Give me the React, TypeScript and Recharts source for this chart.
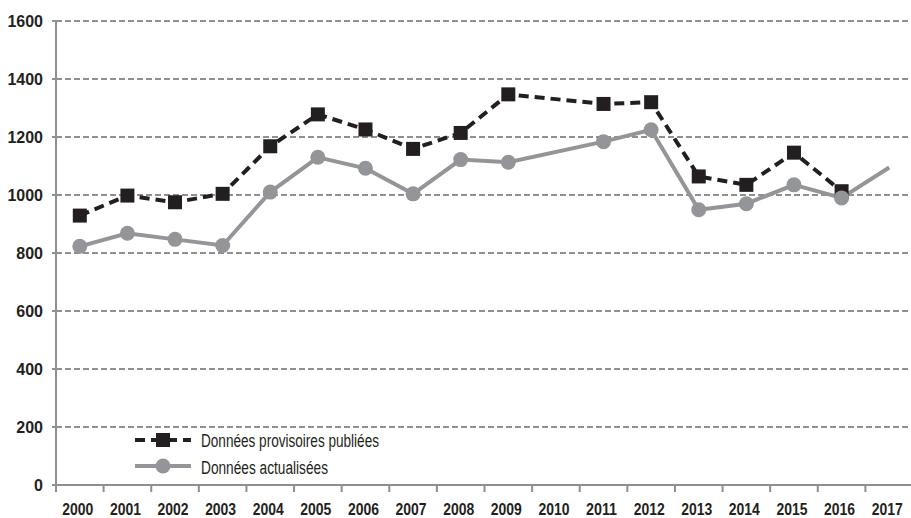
import React from 'react';
import { LineChart, Line, XAxis, YAxis, CartesianGrid } from 'recharts';

const years = ['2000', '2001', '2002', '2003', '2004', '2005', '2006', '2007', '2008', '2009', '2010', '2011', '2012', '2013', '2014', '2015', '2016', '2017'];
const provisoires: (number | null)[] = [929, 998, 975, 1004, 1168, 1278, 1226, 1159, 1214, 1347, null, 1314, 1320, 1064, 1035, 1146, 1013, null];
const actualisees: (number | null)[] = [823, 868, 847, 826, 1010, 1130, 1092, 1004, 1122, 1113, null, 1184, 1225, 949, 970, 1035, 990, 1095];
const yTicks = [0, 200, 400, 600, 800, 1000, 1200, 1400, 1600];
const seriesNames = ['Données provisoires publiées', 'Données actualisées'];

const data = years.map((y, i) => ({ year: y, prov: provisoires[i], act: actualisees[i] }));

const BLACK = '#231f20';
const GRAY = '#939598';
const GRID = '#8f8f8f';
const HALF = 23.8;
const TICK_SIZE = 7;
const TICK_MARGIN = 12;
const FONT = "'Liberation Sans', Arial, sans-serif";

const XTick = (props: any) => {
  const { x, y, payload } = props;
  return (
    <g>
      <line x1={x - HALF} x2={x - HALF} y1={y - TICK_SIZE - TICK_MARGIN} y2={y - TICK_MARGIN} stroke={GRID} strokeWidth={2} />
      <text x={x - 2} y={y + 10.5} textAnchor="middle" fill={BLACK} fontFamily={FONT} fontWeight="bold" fontSize={16.5} textLength={31} lengthAdjust="spacingAndGlyphs">
        {payload.value}
      </text>
    </g>
  );
};

const SquareDot = (props: any) => {
  const { cx, cy, index } = props;
  if (cx == null || cy == null || props.value == null) return <g key={`s${index}`} />;
  return <rect key={`s${index}`} x={cx - 7} y={cy - 7} width={14} height={14} fill={BLACK} />;
};

const CircleDot = (props: any) => {
  const { cx, cy, index } = props;
  if (cx == null || cy == null || props.value == null || index === years.length - 1) return <g key={`c${index}`} />;
  return <circle key={`c${index}`} cx={cx} cy={cy} r={7.5} fill={GRAY} />;
};

export default function App() {
  return (
    <div style={{ position: 'absolute', left: 0, top: 0, width: 911, height: 518, overflow: 'hidden', background: '#fff' }}>
      <LineChart width={930} height={518} data={data} margin={{ top: 21, right: 17, bottom: 0, left: 0 }}>
        <CartesianGrid horizontal vertical={false} stroke={GRID} strokeWidth={2} strokeDasharray="6 3" />
        <XAxis
          dataKey="year"
          padding={{ left: HALF, right: HALF }}
          height={33}
          axisLine={{ stroke: GRID, strokeWidth: 2 }}
          tickLine={false}
          tickSize={TICK_SIZE}
          tickMargin={TICK_MARGIN}
          interval={0}
          tick={<XTick />}
        />
        <YAxis
          domain={[0, 1600]}
          ticks={yTicks}
          width={56}
          axisLine={{ stroke: GRID, strokeWidth: 2 }}
          tickLine={{ stroke: GRID, strokeWidth: 2 }}
          tickSize={4}
          tickMargin={9}
          interval={0}
          tick={{ fill: BLACK, fontFamily: FONT, fontWeight: 'bold', fontSize: 16 }}
        />
        <Line
          dataKey="prov"
          name={seriesNames[0]}
          stroke={BLACK}
          strokeWidth={4}
          strokeDasharray="10 6"
          connectNulls
          dot={SquareDot}
          activeDot={false}
          isAnimationActive={false}
        />
        <Line
          dataKey="act"
          name={seriesNames[1]}
          stroke={GRAY}
          strokeWidth={4}
          connectNulls
          dot={CircleDot}
          activeDot={false}
          isAnimationActive={false}
        />
      </LineChart>
      <svg width={400} height={60} style={{ position: 'absolute', left: 130, top: 424 }}>
        <line x1={5} x2={61} y1={16} y2={16} stroke={BLACK} strokeWidth={4} strokeDasharray="10 6" />
        <rect x={26} y={9} width={14} height={14} fill={BLACK} />
        <text x={71} y={23} fill={BLACK} fontFamily={FONT} fontSize={18} textLength={178} lengthAdjust="spacingAndGlyphs">{seriesNames[0]}</text>
        <line x1={5} x2={61} y1={42} y2={42} stroke={GRAY} strokeWidth={4} />
        <circle cx={33} cy={42} r={7.5} fill={GRAY} />
        <text x={71} y={50} fill={BLACK} fontFamily={FONT} fontSize={18} textLength={127} lengthAdjust="spacingAndGlyphs">{seriesNames[1]}</text>
      </svg>
    </div>
  );
}
